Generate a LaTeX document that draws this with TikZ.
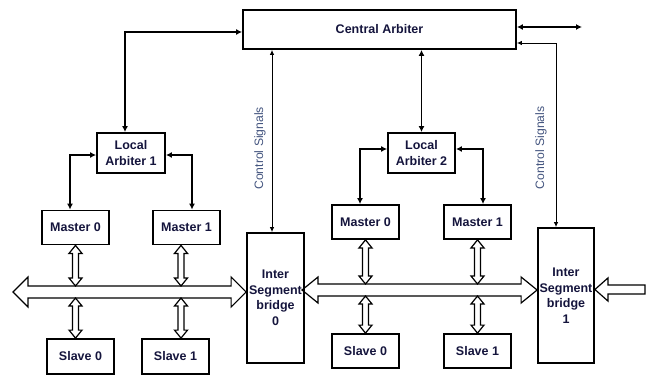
\documentclass[tikz,border=0pt]{standalone}
\usepackage{fontspec}
\setmainfont{Liberation Sans}
\usetikzlibrary{arrows.meta,calc}
\definecolor{labelnavy}{HTML}{14143C}
\definecolor{signalblue}{HTML}{44557F}
\tikzset{
  unit/.style={draw, line width=1.8pt, inner sep=0pt, align=center, text=labelnavy,
    font=\fontsize{12.5}{15.5}\selectfont\bfseries},
  unitbox/.style={unit, minimum width=67pt, minimum height=34pt},
  link/.style={line width=1.8pt, >={Latex[length=6pt,width=6pt]}},
  ctrl/.style={line width=0.9pt, >={Latex[length=5pt,width=4.5pt]}},
  signal/.style={rotate=90, anchor=south, text=signalblue, font=\fontsize{12.2}{14}\selectfont},
  hollow/.style={line width=1.2pt, line join=miter},
}
\newcommand{\vbiarrow}[3]{%
  \draw[hollow] let \p1=(#1), \p2=(#2), \p3=(#3) in
    (\x1,\y2) -- (\x1+6.5pt,\y2-8pt) -- (\x1+3pt,\y2-8pt) -- (\x1+3pt,\y3+8pt)
    -- (\x1+6.5pt,\y3+8pt) -- (\x1,\y3) -- (\x1-6.5pt,\y3+8pt) -- (\x1-3pt,\y3+8pt)
    -- (\x1-3pt,\y2-8pt) -- (\x1-6.5pt,\y2-8pt) -- cycle;}
\newcommand{\busarrow}[5]{%
  \draw[hollow] let \p1=(#1), \p2=(#2) in
    (\x1,\y1) -- (\x1+#5,\y1+#4) -- (\x1+#5,\y1+#3) -- (\x2-#5,\y1+#3)
    -- (\x2-#5,\y1+#4) -- (\x2,\y1) -- (\x2-#5,\y1-#4) -- (\x2-#5,\y1-#3)
    -- (\x1+#5,\y1-#3) -- (\x1+#5,\y1-#4) -- cycle;}

\begin{document}
\begin{tikzpicture}[x=1pt, y=-1pt]
    \useasboundingbox (0,0) rectangle (652,377);

    \node[unit, minimum width=273pt, minimum height=39pt] (ca) at (379.5,29.5) {Central Arbiter};
    \node[unit, minimum width=68pt, minimum height=40pt] (la1) at (131,153) {Local\\Arbiter 1};
    \node[unit, minimum width=67pt, minimum height=40pt] (la2) at (421.5,153) {Local\\Arbiter 2};

    \node[unitbox] (m0a) at (75.5,227.5) {Master 0};
    \node[unitbox] (m1a) at (186.5,227.5) {Master 1};
    \node[unitbox, minimum height=35pt] (s0a) at (80.5,356.5) {Slave 0};
    \node[unitbox, minimum height=35pt] (s1a) at (175.5,356.5) {Slave 1};
    \node[unitbox] (m0b) at (365.5,222) {Master 0};
    \node[unitbox] (m1b) at (477.5,222) {Master 1};
    \node[unitbox] (s0b) at (365.5,351) {Slave 0};
    \node[unitbox] (s1b) at (477.5,351) {Slave 1};

    \node[unit, minimum width=57pt, minimum height=130pt] (br0) at (275.5,298) {Inter\\Segment\\bridge\\0};
    \node[unit, minimum width=56pt, minimum height=135pt] (br1) at (566,295.5) {Inter\\Segment\\bridge\\1};

    \draw[link, <->] ([yshift=-2.5pt]ca.west) -| ([xshift=-6pt]la1.north);
    \draw[link, <->] (la2.north) -- (la2.north |- ca.south);
    \coordinate (caout) at (582,27);
    \draw[link, <->] ([yshift=2.5pt]ca.east) -- (caout);

    \draw[link, <->] ([yshift=-2pt]la1.west) -| ([xshift=-5.5pt]m0a.north);
    \draw[link, <->] ([yshift=-2pt]la1.east) -| ([xshift=5.5pt]m1a.north);
    \draw[link, <->] ([yshift=4pt]la2.west) -| ([xshift=-5.5pt]m0b.north);
    \draw[link, <->] ([yshift=4pt]la2.east) -| ([xshift=5.5pt]m1b.north);

    \coordinate (c0) at ([xshift=-3.5pt]br0.north);
    \draw[ctrl, <->] (c0) -- (c0 |- ca.south)
        node[signal, pos=0.46, inner sep=6pt] (sig0) {Control Signals};
    \coordinate (c1) at ([xshift=-10pt]br1.north);
    \draw[ctrl, <->] (c1) |- ([yshift=-13.5pt]ca.east)
        node[signal, pos=0.215, inner sep=9pt] (sig1) {Control Signals};

    \coordinate (bus1w) at (13,292);
    \coordinate (bus1n) at (0,286);
    \coordinate (bus1s) at (0,298);
    \coordinate (bus2w) at (302,290);
    \coordinate (bus2n) at (0,284);
    \coordinate (bus2s) at (0,296);
    \coordinate (feed) at (645,289.5);

    \busarrow{bus1w}{br0.west |- bus1w}{6pt}{15pt}{15pt}
    \busarrow{bus2w}{br1.west |- bus2w}{6pt}{13pt}{16pt}
    \draw[hollow] let \p1=(br1.east |- feed), \p2=(feed) in
        (\x1,\y1) -- (\x1+13pt,\y1+11.5pt) -- (\x1+13pt,\y1+4.5pt) -- (\x2,\y1+4.5pt)
        -- (\x2,\y1-4.5pt) -- (\x1+13pt,\y1-4.5pt) -- (\x1+13pt,\y1-11.5pt) -- cycle;

    \vbiarrow{m0a.south}{m0a.south}{bus1n}
    \vbiarrow{[xshift=-5.5pt]m1a.south}{m1a.south}{bus1n}
    \vbiarrow{m0a.south}{bus1s}{s0a.north}
    \vbiarrow{[xshift=-5.5pt]m1a.south}{bus1s}{s1a.north}
    \vbiarrow{m0b.south}{m0b.south}{bus2n}
    \vbiarrow{m1b.south}{m1b.south}{bus2n}
    \vbiarrow{m0b.south}{bus2s}{s0b.north}
    \vbiarrow{m1b.south}{bus2s}{s1b.north}
\end{tikzpicture}
\end{document}
